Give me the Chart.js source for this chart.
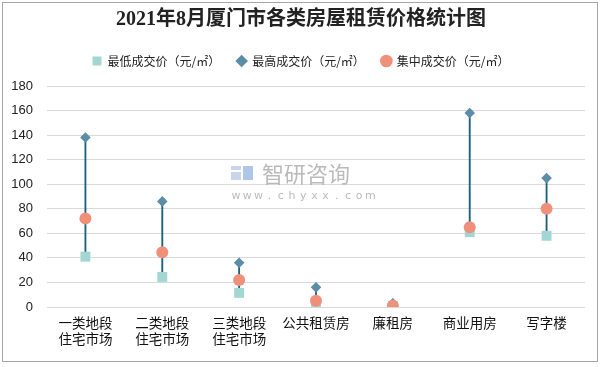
<!DOCTYPE html>
<html>
<head>
<meta charset="utf-8">
<script src="https://cdn.jsdelivr.net/npm/chart.js@4/dist/chart.umd.min.js"></script>
<style>
html,body{margin:0;padding:0;background:#fff;}
#wrap{width:602px;height:367px;position:relative;}
</style>
</head>
<body>
<div id="wrap"><canvas id="c" width="602" height="367"></canvas></div>
<script>
const categories = [["一类地段","住宅市场"],["二类地段","住宅市场"],["三类地段","住宅市场"],"公共租赁房","廉租房","商业用房","写字楼"];
const minPrice = [41, 24.5, 11.5, 0.5, 1, 61, 58];
const maxPrice = [138, 86, 36, 16, 3, 158, 105];
const midPrice = [72, 44.5, 22, 5, 1, 65, 80];
const yTicks = [0, 20, 40, 60, 80, 100, 120, 140, 160, 180];
const seriesNames = ["最低成交价（元/㎡）", "最高成交价（元/㎡）", "集中成交价（元/㎡）"];
const titleText = "2021年8月厦门市各类房屋租赁价格统计图";

const cjk = "'Noto Sans CJK SC'";

const decor = {
  id: 'decor',
  beforeDraw(chart) {
    const ctx = chart.ctx;
    ctx.save();
    ctx.fillStyle = '#fff';
    ctx.fillRect(0, 0, chart.width, chart.height);
    ctx.strokeStyle = '#a6a6a6';
    ctx.lineWidth = 1;
    ctx.strokeRect(2.5, 2.5, 595, 359);
    ctx.restore();
  },
  beforeDatasetsDraw(chart) {
    const ctx = chart.ctx;
    ctx.save();
    ctx.fillStyle = 'rgba(165,185,220,0.6)';
    ctx.fillRect(231, 166, 10, 4);
    ctx.fillRect(231, 172, 10, 8);
    ctx.fillStyle = 'rgba(120,160,215,0.6)';
    ctx.fillRect(243, 166, 10, 14);
    ctx.fillStyle = 'rgba(140,140,140,0.6)';
    ctx.font = "22px " + cjk;
    ctx.textBaseline = 'middle';
    ctx.textAlign = 'left';
    ctx.fillText('智研咨询', 262, 174);
    ctx.font = "11px 'DejaVu Sans'";
    ctx.textAlign = 'center';
    const s = 'www.chyxx.com';
    for (let i = 0; i < s.length; i++) {
      ctx.fillText(s[i], 236 + i * 11.2, 196);
    }
    ctx.restore();
  }
};

function makeSpacer(position, size) {
  const horiz = position === 'top' || position === 'bottom';
  return {
    position: position,
    weight: 100,
    fullSize: horiz,
    options: { stackWeight: 1 },
    width: 0, height: 0, left: 0, top: 0, right: 0, bottom: 0,
    update(maxWidth, maxHeight) {
      this.width = horiz ? maxWidth : size;
      this.height = horiz ? size : maxHeight;
      return { width: this.width, height: this.height };
    },
    isHorizontal() { return horiz; },
    draw() {}
  };
}

const spacer = {
  id: 'spacer',
  beforeInit(chart) {
    Chart.layouts.addBox(chart, makeSpacer('top', 9));
    Chart.layouts.addBox(chart, makeSpacer('right', 17));
  }
};

new Chart(document.getElementById('c'), {
  data: {
    labels: categories,
    datasets: [
      {
        type: 'bar',
        label: 'range',
        data: minPrice.map((v, i) => [v, maxPrice[i]]),
        backgroundColor: '#1b5f7e',
        barThickness: 1.2,
        order: 10
      },
      {
        type: 'line',
        label: seriesNames[0],
        data: minPrice,
        showLine: false,
        pointStyle: 'rect',
        pointRadius: 7,
        pointHoverRadius: 7,
        backgroundColor: '#a1d6d3',
        borderColor: '#a1d6d3',
        borderWidth: 0,
        order: 3
      },
      {
        type: 'line',
        label: seriesNames[1],
        data: maxPrice,
        showLine: false,
        pointStyle: 'rectRot',
        pointRadius: 5.3,
        pointHoverRadius: 5.3,
        backgroundColor: '#5b8ea6',
        borderColor: '#5b8ea6',
        borderWidth: 0,
        order: 2
      },
      {
        type: 'line',
        label: seriesNames[2],
        data: midPrice,
        showLine: false,
        pointStyle: 'circle',
        pointRadius: 6,
        pointHoverRadius: 6,
        backgroundColor: '#ef917a',
        borderColor: '#ef917a',
        borderWidth: 0,
        order: 1
      }
    ]
  },
  options: {
    responsive: false,
    animation: false,
    events: [],
    layout: { padding: { left: 0, right: 0, top: 0, bottom: 0 } },
    plugins: {
      tooltip: { enabled: false },
      title: {
        display: true,
        text: titleText,
        color: '#222',
        font: { family: "'Liberation Serif', " + cjk, size: 20, weight: 'bold' },
        padding: { top: 8, bottom: 6 }
      },
      legend: {
        display: true,
        labels: {
          usePointStyle: true,
          boxWidth: 9,
          boxHeight: 9,
          color: '#222',
          padding: 17,
          font: { family: cjk, size: 12 },
          filter: item => item.datasetIndex !== 0,
          sort: (a, b) => a.datasetIndex - b.datasetIndex
        }
      }
    },
    scales: {
      x: {
        offset: true,
        grid: { display: false, drawTicks: false },
        border: { display: false },
        ticks: {
          color: '#111',
          font: { family: cjk, size: 13.5 },
          maxRotation: 0,
          autoSkip: false,
          padding: 8
        },
        afterFit: s => { s.height = 60; }
      },
      y: {
        min: 0,
        max: 180,
        afterBuildTicks: s => { s.ticks = yTicks.map(v => ({ value: v })); },
        grid: { color: '#d9d9d9', drawTicks: false },
        border: { display: false },
        ticks: {
          color: '#222',
          font: { family: "'Liberation Sans'", size: 13 },
          padding: 14
        },
        afterFit: s => { s.width = 47; }
      }
    }
  },
  plugins: [decor, spacer]
});
</script>
</body>
</html>
